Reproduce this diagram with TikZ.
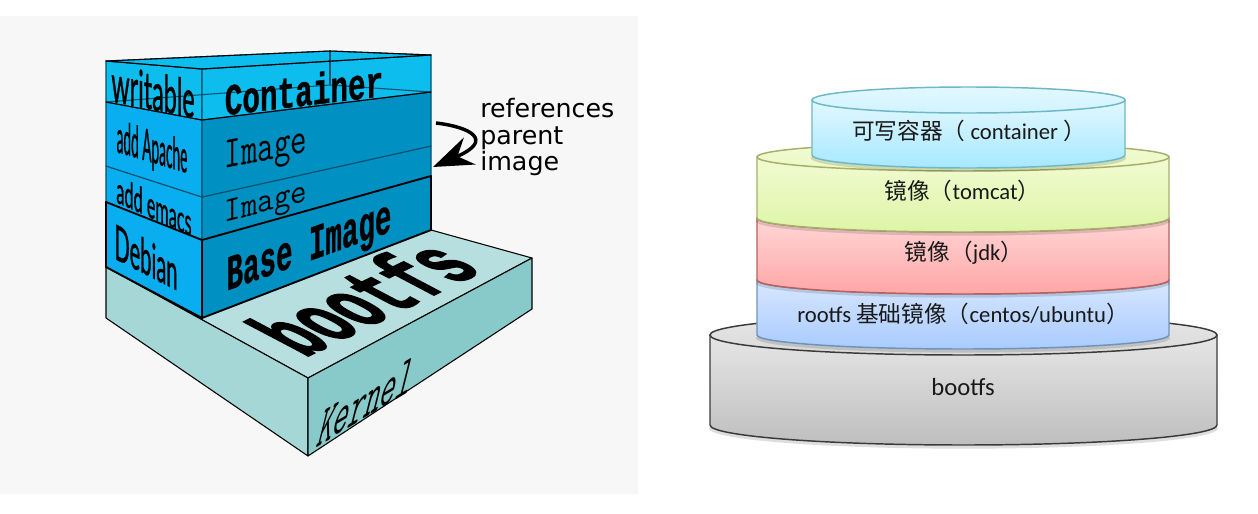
\documentclass[tikz,border=0pt]{standalone}
\usepackage{fontspec}
\setmainfont{Carlito}
\newfontfamily\cjk{Noto Sans CJK SC}
\newfontfamily\refsfont{DejaVu Sans}
\newfontfamily\geofont[FakeBold=1.2]{Lato}
\newfontfamily\heavyfont[FakeBold=1]{Liberation Mono}
\newfontfamily\fatfont[FakeBold=2.5]{Liberation Mono}
\usetikzlibrary{arrows.meta, positioning}

\definecolor{panelgray}{HTML}{F7F7F7}
\definecolor{leftblue}{HTML}{08AEEF}
\definecolor{rightblue}{HTML}{0090C2}
\definecolor{contblue}{HTML}{0DBDEE}
\definecolor{seamblue}{HTML}{05506A}
\definecolor{kernLeft}{HTML}{A4D7D6}
\definecolor{kernRight}{HTML}{88CAC9}
\definecolor{kernTop}{HTML}{B8DFDF}
\definecolor{bootUp}{HTML}{E6E6E6}
\definecolor{bootLow}{HTML}{BEBEBE}
\definecolor{bootLine}{HTML}{3A3A3A}
\definecolor{rootUp}{HTML}{D8E7FF}
\definecolor{rootLow}{HTML}{A8CBFF}
\definecolor{rootLine}{HTML}{6E93B8}
\definecolor{jdkUp}{HTML}{FFD6D6}
\definecolor{jdkLow}{HTML}{FFA6A6}
\definecolor{jdkLine}{HTML}{B8605F}
\definecolor{tomUp}{HTML}{F2FBD2}
\definecolor{tomLow}{HTML}{DDF5A6}
\definecolor{tomLine}{HTML}{A7AE6C}
\definecolor{contUp}{HTML}{E2F8FF}
\definecolor{contLow}{HTML}{A6E8FF}
\definecolor{contLine}{HTML}{6DB8C6}

\begin{document}
\begin{tikzpicture}[
        x=0.75pt, y=-0.75pt,
        face/.style={draw=black, line width=0.8pt, line join=round},
        seamface/.style={draw=seamblue, line width=0.8pt, line join=round},
        heavyface/.style={draw=black, line width=1.4pt, line join=round},
        facetext/.style={inner sep=0pt, transform shape},
        tanktext/.style={inner sep=0pt, font=\fontsize{17}{20}\selectfont, text=black!90}
    ]
        \useasboundingbox (0,0) rectangle (1258,514);
        \fill[panelgray] (0,16) rectangle (638,494);

        % Kernel block
        \draw[face, fill=kernTop] (106,267) -- (202,318) -- (431,230) -- (532,258) -- (308,378) -- cycle;
        \draw[face, fill=kernLeft] (106,267) -- (308,378) -- (308,456) -- (106,318) -- cycle;
        \draw[face, fill=kernRight] (308,378) -- (532,258) -- (532,309) -- (308,456) -- cycle;

        % emacs layer
        \draw[seamface, fill=leftblue] (106,166) -- (202,197) -- (202,240) -- (106,202) -- cycle;
        \draw[seamface, fill=rightblue] (202,197) -- (431,146) -- (431,176) -- (202,240) -- cycle;
        % Apache layer
        \draw[seamface, fill=leftblue] (106,102) -- (202,120) -- (202,197) -- (106,166) -- cycle;
        \draw[seamface, fill=rightblue] (202,120) -- (431,92) -- (431,146) -- (202,197) -- cycle;
        % Debian layer
        \draw[heavyface, fill=leftblue] (106,202) -- (202,240) -- (202,318) -- (106,267) -- cycle;
        \draw[heavyface, fill=rightblue] (202,240) -- (431,176) -- (431,230) -- (202,318) -- cycle;
        % Container layer, see through
        \draw[seamface, fill=contblue] (106,61) -- (202,69) -- (202,120) -- (106,102) -- cycle;
        \draw[seamface, fill=contblue] (202,69) -- (431,55) -- (431,92) -- (202,120) -- cycle;
        \draw[seamface, fill=contblue] (106,61) -- (330,51) -- (431,55) -- (202,69) -- cycle;
        \draw[seamface] (106,102) -- (330,85) -- (431,92);
        \draw[seamface] (330,51) -- (330,85);
        \draw[face] (106,102) -- (202,120) -- (431,92);
        \draw[face] (106,61) -- (330,51) -- (431,55) -- (202,69) -- cycle;

        % Text on the faces
        \node[facetext, yslant=-0.2, font=\geofont\fontsize{25}{25}\selectfont, xscale=0.7, yscale=1.55] (writable) at (153,91) {writable};
        \node[facetext, yslant=-0.3, font=\geofont\fontsize{18}{18}\selectfont, xscale=0.57, yscale=1.85] (apache) at (152,150) {add Apache};
        \node[facetext, yslant=-0.45, font=\geofont\fontsize{21}{21}\selectfont, xscale=0.58, yscale=1.3] (emacs) at (154,206) {add emacs};
        \node[facetext, yslant=-0.51, font=\geofont\fontsize{26}{26}\selectfont, xscale=0.58, yscale=1.4] (debian) at (146,257) {Debian};
        \node[facetext, yslant=0.12, font=\heavyfont\bfseries\fontsize{22}{22}\selectfont, yscale=1.5] (container) at (304,90) {Container};
        \node[facetext, yslant=0.2, font=\ttfamily\fontsize{24}{24}\selectfont, yscale=1.4] (image1) at (266,152) {Image};
        \node[facetext, yslant=0.26, font=\ttfamily\fontsize{24}{24}\selectfont, yscale=1.1] (image2) at (266,205) {Image};
        \node[facetext, yslant=0.36, font=\heavyfont\bfseries\fontsize{20.6}{21}\selectfont, yscale=1.8] (baseimage) at (309,250) {Base Image};
        \node[facetext, cm={1.07,0.52,-1.9,1,(0,0)}, font=\fatfont\bfseries\fontsize{35}{35}\selectfont] (bootfs) at (362,297) {bootfs};
        \node[facetext, cm={1.27,0.76,0.65,2.6,(0,0)}, font=\ttfamily\fontsize{18}{18}\selectfont] (kernel) at (367,401) {Kernel};

        % References note
        \node[inner sep=0pt, align=left, anchor=north west, font=\refsfont\fontsize{19}{20}\selectfont] (note) at (480,98) {references\\parent\\image};
        \coordinate (refstart) at (436,123);
        \coordinate (refend) at (433,167);
        \draw[line width=2.6pt, -{Stealth[length=30, width=22, inset=10]}] (refstart) .. controls (470,127) and (495,140) .. (refend);

        % Stack of tanks, bottom one first
        \foreach \lay/\xc/\rx/\ytop/\ylow/\ry in {
            boot/963.5/253.5/335/425/20,
            root/963/206/280/335/14,
            jdk/963/206/218/280/14,
            tom/963/206/157/218/14,
            cont/968.5/156.5/100/155/13}{
            % soft edge under the tank
            \draw[black, opacity=0.13, line width=2.5pt]
                (\xc-\rx,\ylow+2) arc[start angle=180, end angle=0, x radius=\rx, y radius=\ry];
            \path[draw=\lay Line, line width=1.1pt, top color=\lay Up, bottom color=\lay Low]
                (\xc-\rx,\ytop) -- (\xc-\rx,\ylow) arc[start angle=180, end angle=0, x radius=\rx, y radius=\ry] -- (\xc+\rx,\ytop) -- cycle;
            \path[draw=\lay Line, line width=1.1pt, top color=\lay Up, bottom color=\lay Up!70!\lay Low]
                (\xc,\ytop) ellipse [x radius=\rx, y radius=\ry];
        }

        \node[tanktext] (contlabel) at (969,131) {{\cjk 可写容器（} container {\cjk ）}};
        \node[tanktext] (tomlabel) at (962.5,191) {{\cjk 镜像（}tomcat{\cjk ）}};
        \node[tanktext] (jdklabel) at (964,253) {{\cjk 镜像（}jdk{\cjk ）}};
        \node[tanktext] (rootlabel) at (963,314) {rootfs {\cjk 基础镜像（}centos/ubuntu{\cjk ）}};
        \node[tanktext, font=\fontsize{18.5}{20}\selectfont] (bootlabel) at (963,387) {bootfs};
    \end{tikzpicture}
\end{document}
